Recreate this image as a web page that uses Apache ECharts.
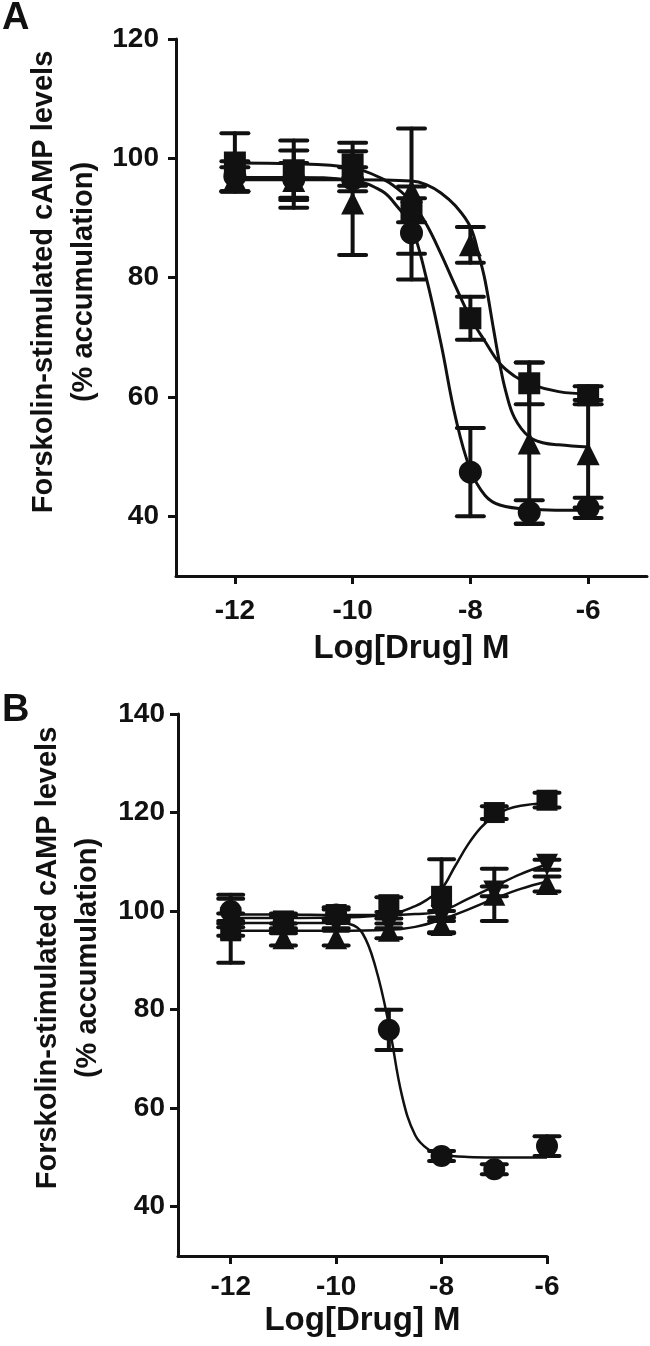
<!DOCTYPE html>
<html><head><meta charset="utf-8">
<script src="https://cdn.jsdelivr.net/npm/echarts@6/dist/echarts.min.js"></script>
<style>html,body{margin:0;padding:0;background:#fff}#c{width:650px;height:1346px}</style>
</head><body><div id="c"></div>
<script>
// ---- data ----
const doses = [-12, -11, -10, -9, -8, -7, -6];
const xTicks = [-12, -10, -8, -6];
const yTicksA = [40, 60, 80, 100, 120];
const yTicksB = [40, 60, 80, 100, 120, 140];

// Panel A points (mean, SEM)
const aSquare = [99.3, 98.0, 99.0, 91.3, 73.2, 62.3, 60.3];
const aSquareErr = [4.9, 5.0, 3.6, 2.0, 3.6, 3.5, 1.5];
const aTriangle = [96.5, 96.3, 92.5, 94.5, 85.5, 52.3, 50.5];
const aTriangleErr = [2.0, 2.9, 8.7, 10.5, 3.0, 13.5, 9.0];
const aCircle = [97.0, 96.5, 96.5, 87.5, 47.4, 40.7, 41.4];
const aCircleErr = [2.5, 4.8, 2.0, 7.8, 7.4, 2.0, 1.7];

// Panel A fitted curves
const aSquareCurveX = [-12, -11, -10, -9.5, -9.25, -9, -8.75, -8.5, -8.25, -8, -7.75, -7.5, -7.25, -7, -6.5, -6];
const aSquareCurveY = [99.2, 99.1, 98.4, 96.6, 95.0, 92.7, 89.0, 84.0, 78.5, 73.3, 69.3, 65.6, 63.5, 62.2, 60.9, 60.5];
const aTriangleCurveX = [-12, -10, -9, -8.75, -8.5, -8.25, -8, -7.85, -7.75, -7.6, -7.5, -7.4, -7.25, -7, -6.75, -6.5, -6];
const aTriangleCurveY = [96.4, 96.4, 96.2, 95.6, 94.2, 92.0, 88.5, 83.5, 79.5, 71.0, 65.5, 61.0, 56.5, 53.3, 52.3, 52.0, 51.6];
const aCircleCurveX = [-12, -11, -10, -9.5, -9.25, -9, -8.75, -8.5, -8.25, -8, -7.75, -7.5, -7, -6];
const aCircleCurveY = [96.8, 96.8, 96.3, 94.5, 92.0, 88.5, 80.0, 69.0, 56.5, 47.8, 43.5, 41.9, 41.2, 41.0];

// Panel B points (mean, SEM)
const bSquare = [96.0, 98.0, 99.3, 101.3, 103.0, 120.0, 122.5];
const bSquareErr = [6.5, 1.5, 1.5, 1.5, 7.5, 1.3, 1.5];
const bInvTriangle = [98.5, 96.5, 97.5, 97.5, 99.0, 104.0, 109.4];
const bInvTriangleErr = [1.0, 1.0, 1.0, 1.0, 1.0, 1.0, 1.0];
const bTriangle = [96.5, 94.5, 94.5, 96.0, 97.2, 103.3, 105.5];
const bTriangleErr = [1.5, 1.5, 1.5, 1.5, 1.5, 5.3, 1.5];
const bCircle = [100.0, 97.5, 99.3, 75.9, 50.3, 47.6, 52.3];
const bCircleErr = [3.3, 1.5, 1.0, 4.1, 1.0, 1.0, 2.0];

// Panel B fitted curves
const bSquareCurveX = [-12, -11, -10, -9, -8.5, -8.25, -8, -7.75, -7.5, -7.25, -7, -6.75, -6.5, -6];
const bSquareCurveY = [98.6, 98.6, 98.7, 99.3, 101.0, 102.5, 104.5, 109.0, 113.5, 117.0, 119.3, 120.7, 121.4, 122.0];
const bInvTriangleCurveX = [-12, -11, -10, -9, -8.5, -8, -7.5, -7, -6.5, -6];
const bInvTriangleCurveY = [99.3, 99.3, 99.2, 99.2, 99.4, 100.0, 102.5, 105.0, 107.5, 109.5];
const bTriangleCurveX = [-12, -11, -10, -9, -8.5, -8, -7.5, -7, -6.5, -6];
const bTriangleCurveY = [96.0, 96.0, 96.0, 96.2, 96.8, 98.3, 100.3, 102.5, 104.5, 106.0];
const bCircleCurveX = [-12, -11, -10, -9.75, -9.5, -9.25, -9, -8.75, -8.5, -8.25, -8, -7.5, -7, -6];
const bCircleCurveY = [97.6, 97.6, 97.6, 97.4, 95.5, 88.5, 77.0, 62.5, 54.5, 51.6, 50.6, 50.1, 50.0, 50.0];

// ---- chart ----
const INK = '#111';
const FONT = '"Liberation Sans", Arial, Helvetica, sans-serif';
const zip = (xs, ys) => xs.map((x, i) => [x, ys[i]]);
const zip3 = (xs, ys, es) => xs.map((x, i) => [x, ys[i], es[i]]);

function errSeries(idx, ys, es, capW, lw) {
  return {
    type: 'custom', xAxisIndex: idx, yAxisIndex: idx, z: 3,
    data: zip3(doses, ys, es),
    renderItem: function (params, api) {
      const x = api.value(0), y = api.value(1), e = api.value(2);
      const t = api.coord([x, y + e]), b = api.coord([x, y - e]);
      const st = { stroke: INK, lineWidth: lw, lineCap: 'round' };
      const h = capW / 2;
      return { type: 'group', children: [
        { type: 'line', shape: { x1: t[0], y1: t[1], x2: b[0], y2: b[1] }, style: st },
        { type: 'line', shape: { x1: t[0] - h, y1: t[1], x2: t[0] + h, y2: t[1] }, style: st },
        { type: 'line', shape: { x1: b[0] - h, y1: b[1], x2: b[0] + h, y2: b[1] }, style: st }
      ]};
    }
  };
}
function curveSeries(idx, xs, ys, lw) {
  return { type: 'line', xAxisIndex: idx, yAxisIndex: idx, z: 2, data: zip(xs, ys),
    smooth: 0.4, showSymbol: false, symbol: 'none',
    lineStyle: { color: INK, width: lw }, silent: true };
}
function pointSeries(idx, ys, symbol, size, rotate) {
  return { type: 'scatter', xAxisIndex: idx, yAxisIndex: idx, z: 4, data: zip(doses, ys),
    symbol: symbol, symbolSize: size, symbolRotate: rotate || 0,
    itemStyle: { color: INK, opacity: 1 } };
}

function xAxisCfg(idx, min, max, margin, nameGap, lw) {
  return { type: 'value', gridIndex: idx, min: min, max: max,
    name: 'Log[Drug] M', nameLocation: 'middle', nameGap: nameGap,
    nameTextStyle: { fontFamily: FONT, fontWeight: 'bold', fontSize: 33, color: INK },
    axisLine: { onZero: false, lineStyle: { color: INK, width: lw } },
    axisTick: { show: true, inside: false, length: 8, customValues: xTicks, lineStyle: { color: INK, width: lw } },
    axisLabel: { customValues: xTicks, margin: margin, fontFamily: FONT, fontWeight: 'bold', fontSize: 28, color: INK },
    splitLine: { show: false } };
}
function yAxisCfg(idx, min, max, ticks, margin, lw) {
  return { type: 'value', gridIndex: idx, min: min, max: max,
    axisLine: { show: true, onZero: false, lineStyle: { color: INK, width: lw } },
    axisTick: { show: true, inside: false, length: 8, customValues: ticks, lineStyle: { color: INK, width: lw } },
    axisLabel: { customValues: ticks, margin: margin, fontFamily: FONT, fontWeight: 'bold', fontSize: 28, color: INK },
    splitLine: { show: false } };
}

const titleStyle = { fontFamily: FONT, fontWeight: 'bold', fontSize: 29, fill: INK, align: 'center', verticalAlign: 'middle' };
function yTitle(x, y, txt) {
  return { type: 'text', x: x, y: y, rotation: Math.PI / 2, style: Object.assign({ text: txt }, titleStyle) };
}

const option = {
  animation: false,
  backgroundColor: '#fff',
  grid: [
    { left: 176, top: 39, width: 471, height: 537 },
    { left: 178, top: 714, width: 369, height: 542 }
  ],
  xAxis: [ xAxisCfg(0, -13, -5, 21, 56, 3), xAxisCfg(1, -13, -6, 17, 48, 3) ],
  yAxis: [ yAxisCfg(0, 30, 120, yTicksA, 17, 3), yAxisCfg(1, 30, 140, yTicksB, 13, 3) ],
  graphic: [
    { type: 'text', left: 2, top: 0, style: { text: 'A', fontFamily: FONT, fontWeight: 'bold', fontSize: 38, fill: INK } },
    { type: 'text', left: 2, top: 692, style: { text: 'B', fontFamily: FONT, fontWeight: 'bold', fontSize: 38, fill: INK } },
    yTitle(44, 282, 'Forskolin-stimulated cAMP levels'),
    yTitle(84, 282, '(% accumulation)'),
    yTitle(48, 958, 'Forskolin-stimulated cAMP levels'),
    yTitle(88, 958, '(% accumulation)')
  ],
  series: [
    curveSeries(0, aSquareCurveX, aSquareCurveY, 3),
    curveSeries(0, aTriangleCurveX, aTriangleCurveY, 3),
    curveSeries(0, aCircleCurveX, aCircleCurveY, 3),
    errSeries(0, aSquare, aSquareErr, 27, 4),
    errSeries(0, aTriangle, aTriangleErr, 27, 4),
    errSeries(0, aCircle, aCircleErr, 27, 4),
    pointSeries(0, aSquare, 'rect', 22),
    pointSeries(0, aTriangle, 'triangle', 23),
    pointSeries(0, aCircle, 'circle', 23),

    curveSeries(1, bSquareCurveX, bSquareCurveY, 2.5),
    curveSeries(1, bInvTriangleCurveX, bInvTriangleCurveY, 2.5),
    curveSeries(1, bTriangleCurveX, bTriangleCurveY, 2.5),
    curveSeries(1, bCircleCurveX, bCircleCurveY, 2.5),
    errSeries(1, bSquare, bSquareErr, 25, 4),
    errSeries(1, bInvTriangle, bInvTriangleErr, 25, 4),
    errSeries(1, bTriangle, bTriangleErr, 25, 4),
    errSeries(1, bCircle, bCircleErr, 25, 4),
    pointSeries(1, bSquare, 'rect', 21),
    pointSeries(1, bInvTriangle, 'triangle', 22, 180),
    pointSeries(1, bTriangle, 'triangle', 22),
    pointSeries(1, bCircle, 'circle', 22)
  ]
};
const chart = echarts.init(document.getElementById('c'), null, { renderer: 'canvas' });
chart.setOption(option);
</script></body></html>
